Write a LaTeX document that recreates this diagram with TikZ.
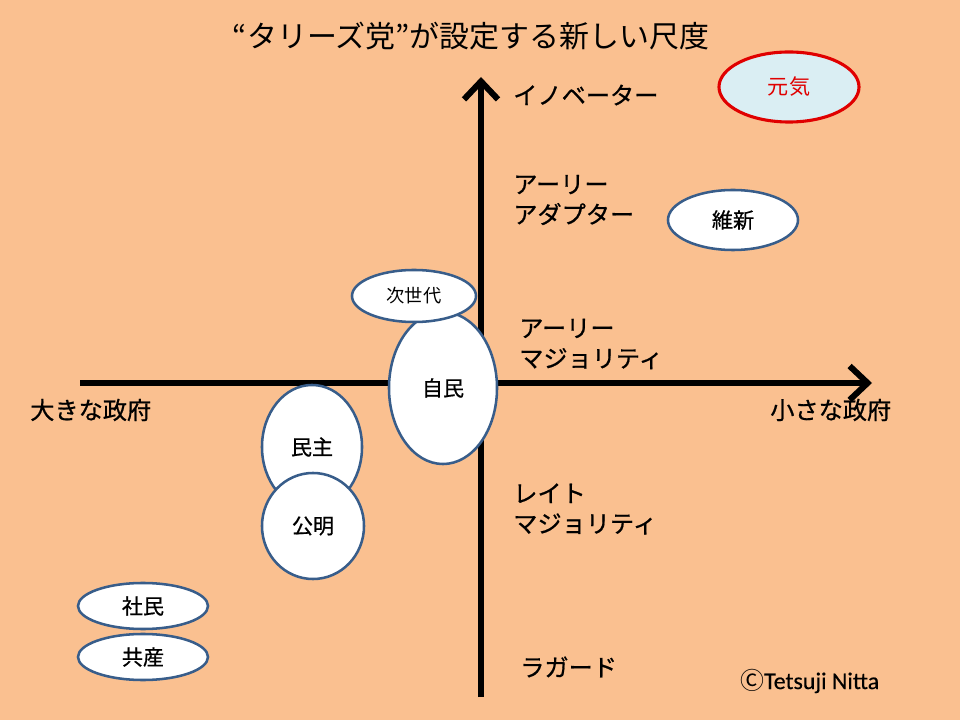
\documentclass[tikz,border=0pt]{standalone}
\usepackage{fontspec}
\setmainfont{Noto Sans CJK JP}
\newfontfamily\jpbold{Noto Sans CJK JP}[FakeBold=0.7]
\newfontfamily\latinfont{Carlito}[FakeBold=0.4]
\usetikzlibrary{arrows.meta, shapes.geometric}
\definecolor{bgorange}{HTML}{FAC090}
\definecolor{rimblue}{HTML}{385D8A}
\definecolor{paleblue}{HTML}{DAEEF3}
\definecolor{genkired}{HTML}{E00000}

\begin{document}
\begin{tikzpicture}[
    x=0.025cm, y=-0.025cm,
    axis/.style={line width=4.3pt, -{Straight Barb[length=0.45cm, width=0.85cm]}},
    party/.style={
      ellipse, draw=rimblue, line width=1.8pt, fill=white, inner sep=0pt,
      font=\jpbold\fontsize{15}{18}\selectfont
    },
    label/.style={anchor=west, align=left, inner sep=0pt, font=\jpbold\fontsize{17.2}{21.5}\selectfont}
  ]
  \fill[bgorange] (0,0) rectangle (960,720);

  % title
  \node[font=\fontsize{21.3}{25}\selectfont] (title) at (471,36) {“タリーズ党”が設定する新しい尺度};

  % axes
  \coordinate (west)  at (80,383);
  \coordinate (east)  at (872,383);
  \coordinate (south) at (481,697);
  \coordinate (north) at (481,77);
  \draw[axis] (west) -- (east);
  \draw[axis] (south) -- (north);

  % axis labels
  \node[label] (big)   at (30,410)  {大きな政府};
  \node[label] (small) at (770,410) {小さな政府};
  \node[label] (inno)  at (513,95)  {イノベーター};
  \node[label] (early) at (513,200) {アーリー\\アダプター};
  \node[label] (emaj)  at (519,344) {アーリー\\マジョリティ};
  \node[label] (lmaj)  at (513,509) {レイト\\マジョリティ};
  \node[label] (lag)   at (520,667) {ラガード};

  % parties
  \node[party, draw=genkired, line width=2.2pt, fill=paleblue, text=genkired,
        font=\fontsize{15}{18}\selectfont,
        minimum width=3.5cm, minimum height=1.75cm] (genki) at (789,87) {元気};
  \node[party, minimum width=3.25cm, minimum height=1.5cm] (ishin) at (733,220) {維新};
  \node[party, minimum width=2.7cm, minimum height=3.8cm] (jimin) at (443,388) {自民};
  \node[party, font=\fontsize{13}{16}\selectfont,
        minimum width=3.1cm, minimum height=1.3cm] (jisedai) at (414,296) {次世代};
  \node[party, minimum width=2.5cm, minimum height=3.1cm] (minshu) at (312,447) {民主};
  \node[party, minimum width=2.55cm, minimum height=2.65cm] (komei) at (313,526) {公明};
  \node[party, minimum width=3.25cm, minimum height=1.15cm] (shamin) at (143,606) {社民};
  \node[party, minimum width=3.25cm, minimum height=1.15cm] (kyosan) at (143,657) {共産};

  \node[label, font=\fontsize{17}{20}\selectfont] (credit) at (740,681) {Ⓒ{\latinfont Tetsuji Nitta}};
\end{tikzpicture}
\end{document}
